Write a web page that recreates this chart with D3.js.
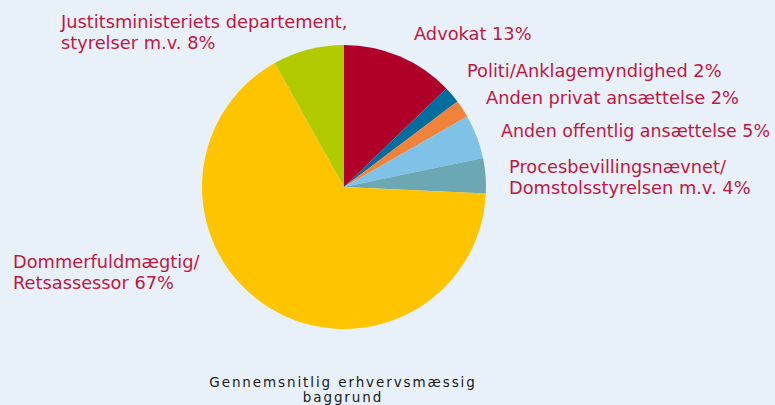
<!DOCTYPE html>
<html><head><meta charset="utf-8">
<script src="https://cdn.jsdelivr.net/npm/d3@7"></script>
<style>html,body{margin:0;padding:0;background:#E8F1FA;}svg{display:block;}</style>
</head><body>
<script>
const categories = ["Advokat","Politi/Anklagemyndighed","Anden privat ansættelse","Anden offentlig ansættelse","Procesbevillingsnævnet/Domstolsstyrelsen m.v.","Dommerfuldmægtig/Retsassessor","Justitsministeriets departement, styrelser m.v."];
const values = [12.8, 1.9, 2.0, 5.0, 4.0, 66.1, 8.1];
const percentLabels = ["13%","2%","2%","5%","4%","67%","8%"];
const labelLines = [
  ["Advokat 13%"],
  ["Politi/Anklagemyndighed 2%"],
  ["Anden privat ansættelse 2%"],
  ["Anden offentlig ansættelse 5%"],
  ["Procesbevillingsnævnet/","Domstolsstyrelsen m.v. 4%"],
  ["Dommerfuldmægtig/","Retsassessor 67%"],
  ["Justitsministeriets departement,","styrelser m.v. 8%"]
];
const colors = ["#B0002A","#006D9F","#F0823A","#80C2E7","#6CA8B3","#FFC400","#B2CB00"];
const titleLines = ["Gennemsnitlig erhvervsmæssig","baggrund"];

const W=775,H=405;
const svg=d3.select("body").append("svg").attr("width",W).attr("height",H);
svg.append("rect").attr("width",W).attr("height",H).attr("fill","#E8F1FA");
const cx=344, cy=187, r=142;
const pie=d3.pie().sort(null).value(d=>d)(values);
const arc=d3.arc().innerRadius(0).outerRadius(r);
const g=svg.append("g").attr("transform",`translate(${cx},${cy})`);
g.selectAll("path").data(pie).join("path").attr("d",arc).attr("fill",(d,i)=>colors[i]);

const labelPos=[[414,40],[467,77],[486,104],[501,137],[509,173],[13,268],[61,28]];
const fs=17.8;
labelLines.forEach((lines,i)=>{
  const t=svg.append("text").attr("x",labelPos[i][0]).attr("y",labelPos[i][1])
    .attr("font-family","DejaVu Sans").attr("font-size",fs).attr("fill","#C0173F");
  lines.forEach((l,j)=>{
    const ts=t.append("tspan").attr("x",labelPos[i][0]).attr("dy",j?21:0).text(l);
    if(i===3) ts.attr("textLength",269).attr("lengthAdjust","spacingAndGlyphs");
  });
});
const tt=svg.append("text").attr("x",343).attr("y",387).attr("text-anchor","middle")
  .attr("font-family","DejaVu Sans").attr("font-size",13.5).attr("letter-spacing",1.9).attr("fill","#1a1a1a");
titleLines.forEach((l,j)=>tt.append("tspan").attr("x",343).attr("dy",j?14.5:0).text(l));
</script>
</body></html>
